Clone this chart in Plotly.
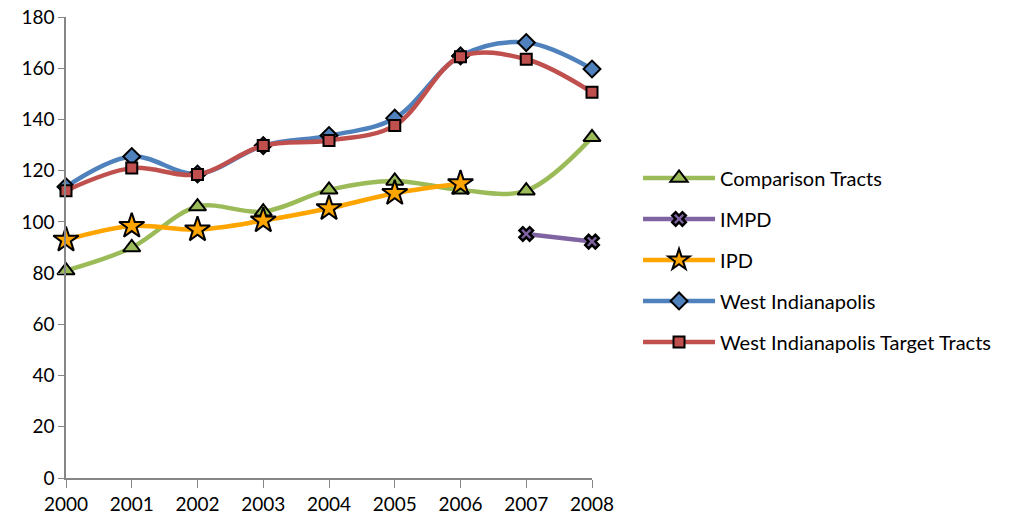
import plotly.graph_objects as go

years = [2000, 2001, 2002, 2003, 2004, 2005, 2006, 2007, 2008]
comparison = [81, 90, 106, 104, 112.5, 116, 112.5, 112.2, 133]
impd = [None, None, None, None, None, None, None, 95.3, 92.3]
ipd = [93, 98.4, 97, 100.5, 105.3, 111.2, 115, None, None]
west_indy = [113.7, 125.5, 118.7, 129.8, 133.7, 140.5, 164.8, 170, 159.7]
target = [112.2, 121, 118.5, 129.8, 131.8, 137.6, 164.5, 163.5, 150.6]

series = [
    ("Comparison Tracts", comparison, "#9BBB59", "triangle-up", 15, "#9BBB59", 2),
    ("IMPD", impd, "#8064A2", "x", 12, "#8064A2", 2.5),
    ("IPD", ipd, "#FFA500", "star", 19, "#FFA500", 2),
    ("West Indianapolis", west_indy, "#4F81BD", "diamond", 13, "#4F81BD", 2),
    ("West Indianapolis Target Tracts", target, "#C0504D", "square", 11, "#C0504D", 2),
]

fig = go.Figure()
for i, (name, vals, color, sym, size, fill, lw) in enumerate(series):
    fig.add_trace(go.Scatter(
        x=years, y=vals, name=name, mode="lines+markers",
        line=dict(color=color, width=4.5, shape="spline", smoothing=1),
        marker=dict(symbol=sym, size=size, color=fill,
                    line=dict(color="black", width=lw)),
        legendgroup=f"g{i}",
        connectgaps=False,
        cliponaxis=False,
    ))

fig.update_layout(
    width=1013, height=519,
    margin=dict(l=66, r=421, t=17, b=41, autoexpand=False),
    paper_bgcolor="white", plot_bgcolor="white",
    font=dict(family="Lato, Liberation Sans, sans-serif", size=19, color="black"),
    legend=dict(x=1.0875, xanchor="left", y=0.473, yanchor="middle",
                traceorder="grouped", tracegroupgap=12,
                font=dict(size=20), itemwidth=72),
    showlegend=True,
)
fig.update_xaxes(
    range=[2000, 2008], tickvals=years, ticktext=[str(y) for y in years],
    showgrid=False, zeroline=False, showline=True, linecolor="#868686",
    linewidth=1.5, ticks="outside", ticklen=8, tickcolor="#868686",
    tickfont=dict(size=19), ticklabeloverflow="allow", automargin=False,
)
fig.update_yaxes(
    range=[0, 180], dtick=20, showgrid=False, zeroline=False,
    showline=True, linecolor="#868686", linewidth=1.5, ticks="outside",
    ticklen=6, tickcolor="#868686", tickfont=dict(size=19),
    ticklabeloverflow="allow", automargin=False,
)

fig.write_html("out.html", config={"displayModeBar": False},
               post_script="document.body.style.margin='0';")
